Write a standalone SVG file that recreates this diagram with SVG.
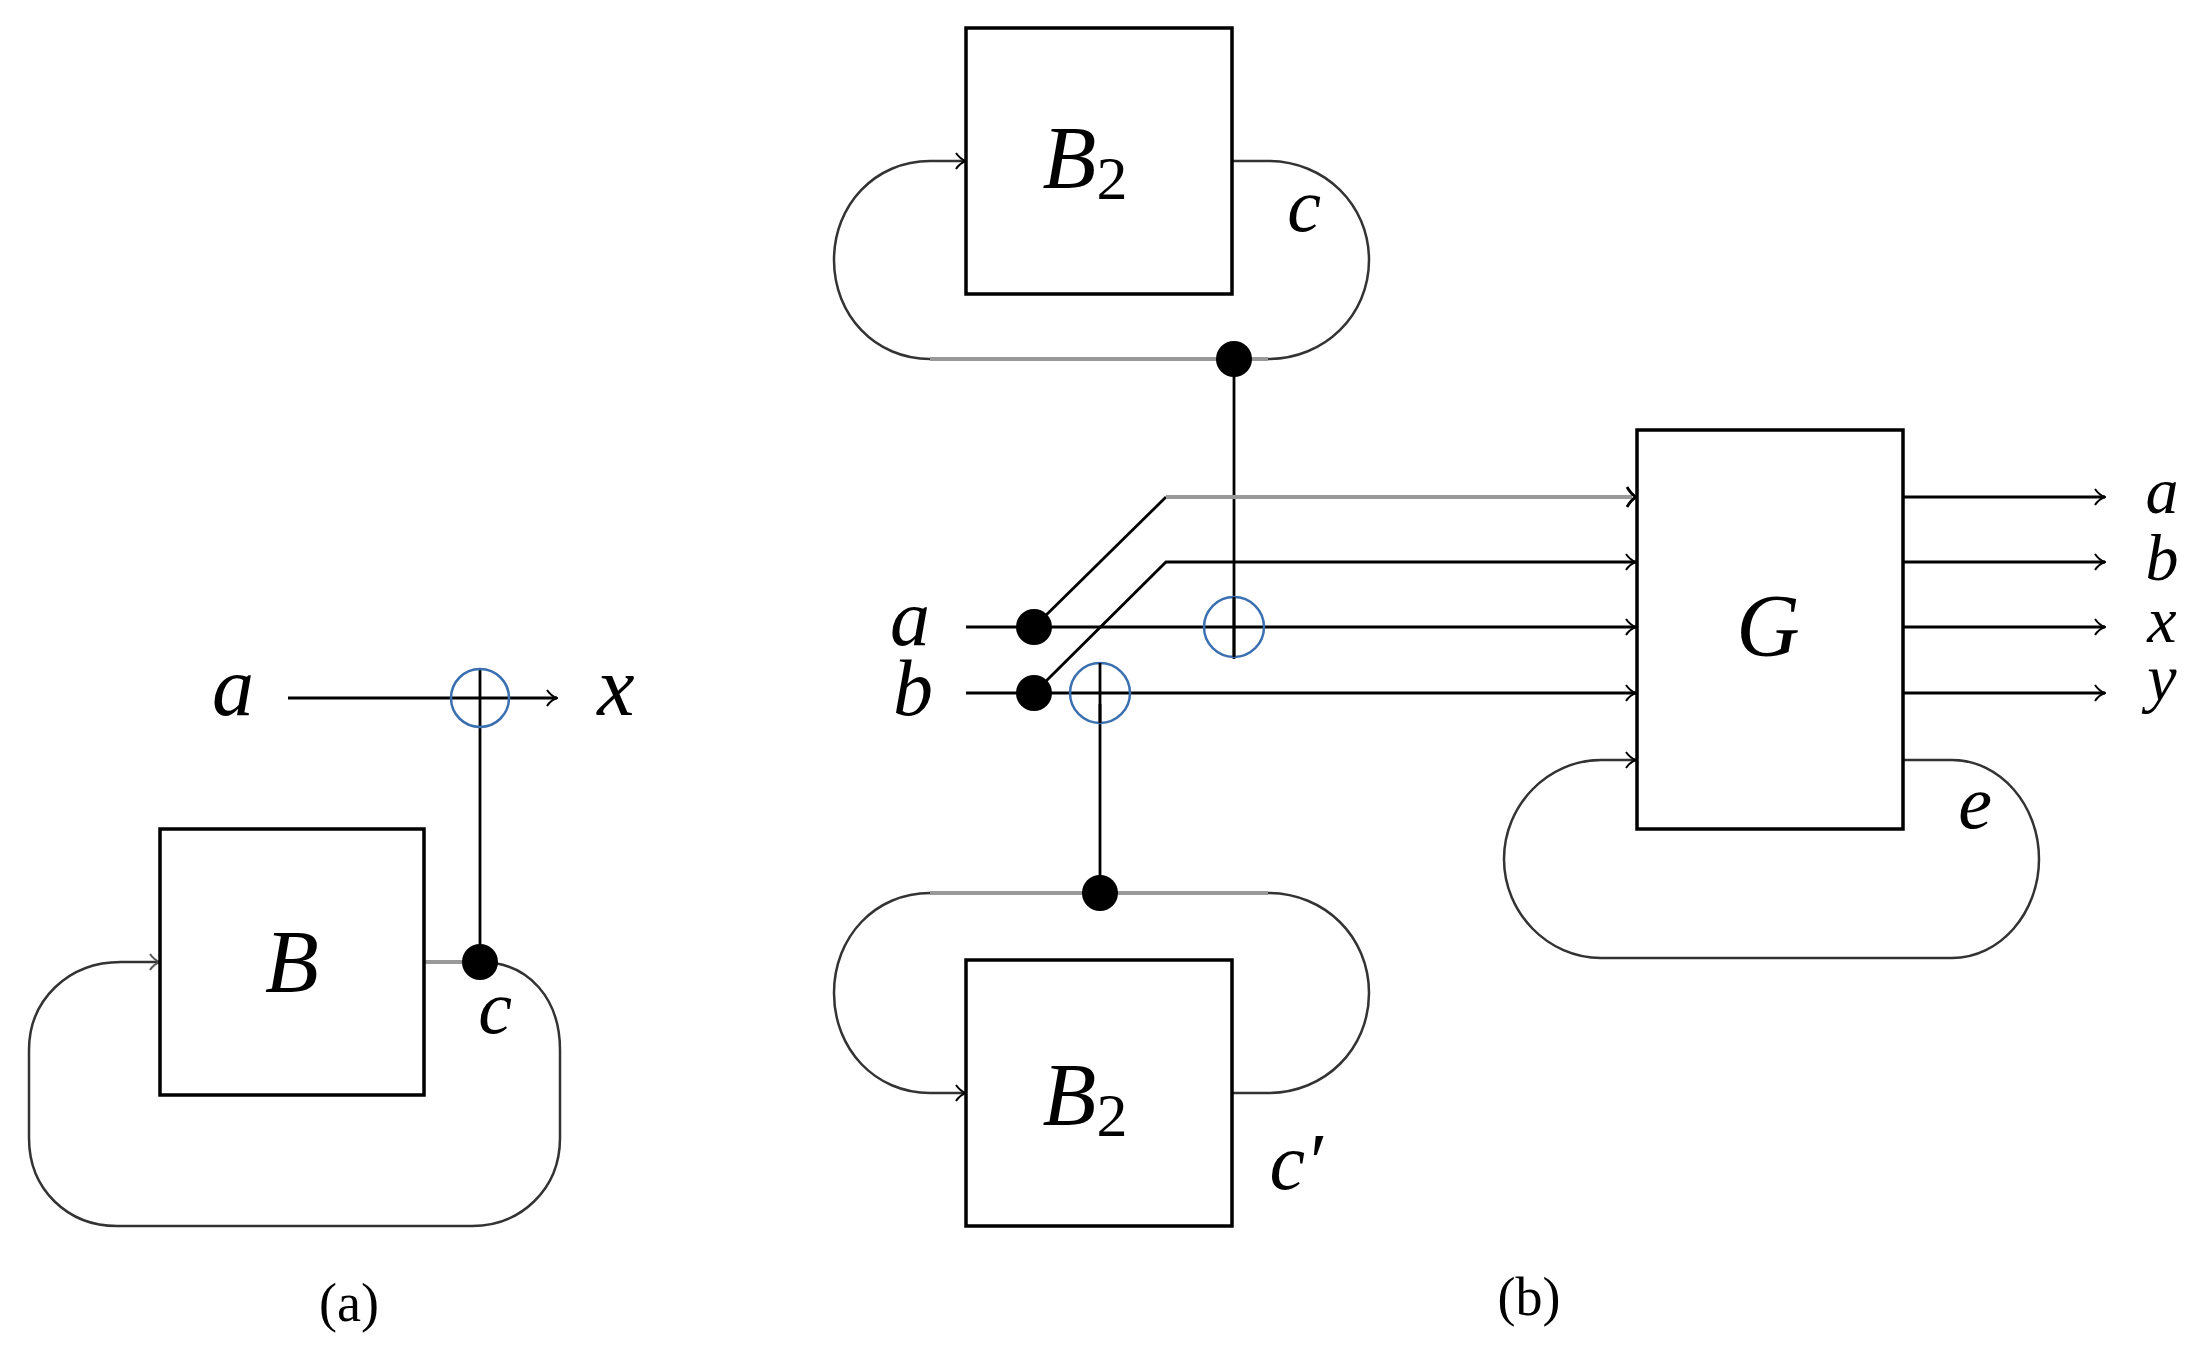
<svg xmlns="http://www.w3.org/2000/svg" width="2204" height="1370" viewBox="0 0 2204 1370">
<defs>
<marker id="ar" viewBox="0 0 20 20" refX="19" refY="10" markerWidth="20" markerHeight="20" markerUnits="userSpaceOnUse" orient="auto"><path d="M9,2 Q13,8 19,10 Q13,12 9,18" fill="none" stroke="#000" stroke-width="2"/></marker>
<marker id="arg" viewBox="0 0 20 20" refX="19" refY="10" markerWidth="20" markerHeight="20" markerUnits="userSpaceOnUse" orient="auto"><path d="M9,2 Q13,8 19,10 Q13,12 9,18" fill="none" stroke="#555" stroke-width="2"/></marker>
</defs>
<style>
.box{fill:#fff;stroke:#000;stroke-width:3.5}
.w{fill:none;stroke:#000;stroke-width:2.8}
.g{fill:none;stroke:#999;stroke-width:4}
.lp{fill:none;stroke:#333;stroke-width:2.5}
.op{fill:none;stroke:#3a6fb0;stroke-width:2.5}
.dot{fill:#000}
.m{font-family:"Liberation Serif",serif;font-style:italic;fill:#000}
.cap{font-family:"Liberation Serif",serif;font-size:54px;fill:#000;text-anchor:middle}
</style>
<rect width="2204" height="1370" fill="#fff"/>
<g id="connectors">
<line class="w" x1="288" y1="698" x2="557" y2="698" marker-end="url(#ar)"/>
<line class="w" x1="480" y1="669" x2="480" y2="962"/>
<line class="g" x1="424" y1="962" x2="480" y2="962"/>
<path class="lp" d="M480,962 C530,962 560,1000 560,1050 L560,1138 C560,1190 520,1226 472,1226 L117,1226 C68,1226 29,1190 29,1138 L29,1050 C29,1000 68,962 121,962 L160,962" marker-end="url(#arg)"/>
<path class="lp" d="M1232,161 L1268,161 C1325,161 1369,205 1369,260 C1369,315 1325,359 1268,359"/>
<path class="lp" d="M930,359 C875,359 834,315 834,260 C834,205 875,161 930,161 L966,161" marker-end="url(#ar)"/>
<line class="g" x1="930" y1="359" x2="1268" y2="359"/>
<line class="w" x1="1234" y1="359" x2="1234" y2="659"/>
<path class="lp" d="M1232,1093 L1268,1093 C1325,1093 1369,1049 1369,993 C1369,937 1325,893 1268,893"/>
<path class="lp" d="M930,893 C875,893 834,937 834,993 C834,1049 875,1093 930,1093 L966,1093" marker-end="url(#ar)"/>
<line class="g" x1="930" y1="893" x2="1268" y2="893"/>
<line class="w" x1="1100" y1="704" x2="1100" y2="893"/>
<line class="w" x1="966" y1="627" x2="1636" y2="627" marker-end="url(#ar)"/>
<line class="w" x1="966" y1="693" x2="1636" y2="693" marker-end="url(#ar)"/>
<path class="w" d="M1034,627 L1166,497"/>
<line class="g" x1="1166" y1="497" x2="1632" y2="497"/>
<path class="w" d="M1627,487 Q1631,494 1636,497 Q1631,500 1627,507"/>
<path class="w" d="M1034,693 L1166,562 L1636,562" marker-end="url(#ar)"/>
<line class="w" x1="1903" y1="497" x2="2105" y2="497" marker-end="url(#ar)"/>
<line class="w" x1="1903" y1="562" x2="2105" y2="562" marker-end="url(#ar)"/>
<line class="w" x1="1903" y1="627" x2="2105" y2="627" marker-end="url(#ar)"/>
<line class="w" x1="1903" y1="693" x2="2105" y2="693" marker-end="url(#ar)"/>
<path class="lp" d="M1903,760 L1952,760 C2000,760 2039,805 2039,859 C2039,913 2000,958 1952,958 L1601,958 C1548,958 1504,913 1504,859 C1504,805 1548,760 1601,760 L1636,760" marker-end="url(#ar)"/>
</g>
<g id="nodeB"><rect class="box" x="160" y="829" width="264" height="266"/><text class="m" x="292" y="991" font-size="88" text-anchor="middle">B</text></g>
<g id="oplusA"><circle class="op" cx="480" cy="698" r="29"/></g>
<g id="dotA"><circle class="dot" cx="480" cy="962" r="18"/></g>
<g id="nodeB2top"><rect class="box" x="966" y="28" width="266" height="266"/><text class="m" x="1085" y="187" font-size="88" text-anchor="middle">B<tspan font-style="normal" font-size="62" dy="12">2</tspan></text></g>
<g id="nodeB2bot"><rect class="box" x="966" y="960" width="266" height="266"/><text class="m" x="1085" y="1124" font-size="88" text-anchor="middle">B<tspan font-style="normal" font-size="62" dy="12">2</tspan></text></g>
<g id="nodeG"><rect class="box" x="1637" y="430" width="266" height="399"/><text class="m" x="1768" y="655" font-size="88" text-anchor="middle">G</text></g>
<g id="dots"><circle class="dot" cx="1234" cy="359" r="18"/><circle class="dot" cx="1100" cy="893" r="18"/><circle class="dot" cx="1034" cy="627" r="18"/><circle class="dot" cx="1034" cy="693" r="18"/></g>
<g id="opluses"><circle class="op" cx="1234" cy="627" r="30"/><line class="w" x1="1234" y1="597" x2="1234" y2="657"/><circle class="op" cx="1100" cy="693" r="30"/><line class="w" x1="1100" y1="663" x2="1100" y2="723"/></g>
<g id="labels">
<text class="m" x="233" y="715" font-size="84" text-anchor="middle">a</text>
<text class="m" x="616" y="715" font-size="84" text-anchor="middle">x</text>
<text class="m" x="495" y="1033" font-size="76" text-anchor="middle">c</text>
<text class="cap" x="349" y="1321">(a)</text>
<text class="m" x="1304" y="231" font-size="76" text-anchor="middle">c</text>
<text class="m" x="910" y="645" font-size="80" text-anchor="middle">a</text>
<text class="m" x="913" y="715" font-size="80" text-anchor="middle">b</text>
<text class="m" x="1296" y="1189" font-size="80" text-anchor="middle">c′</text>
<text class="m" x="1975" y="828" font-size="76" text-anchor="middle">e</text>
<text class="m" x="2162" y="513" font-size="66" text-anchor="middle">a</text>
<text class="m" x="2162" y="580" font-size="66" text-anchor="middle">b</text>
<text class="m" x="2162" y="642" font-size="66" text-anchor="middle">x</text>
<text class="m" x="2162" y="700" font-size="66" text-anchor="middle">y</text>
<text class="cap" x="1529" y="1315">(b)</text>
</g>
</svg>
